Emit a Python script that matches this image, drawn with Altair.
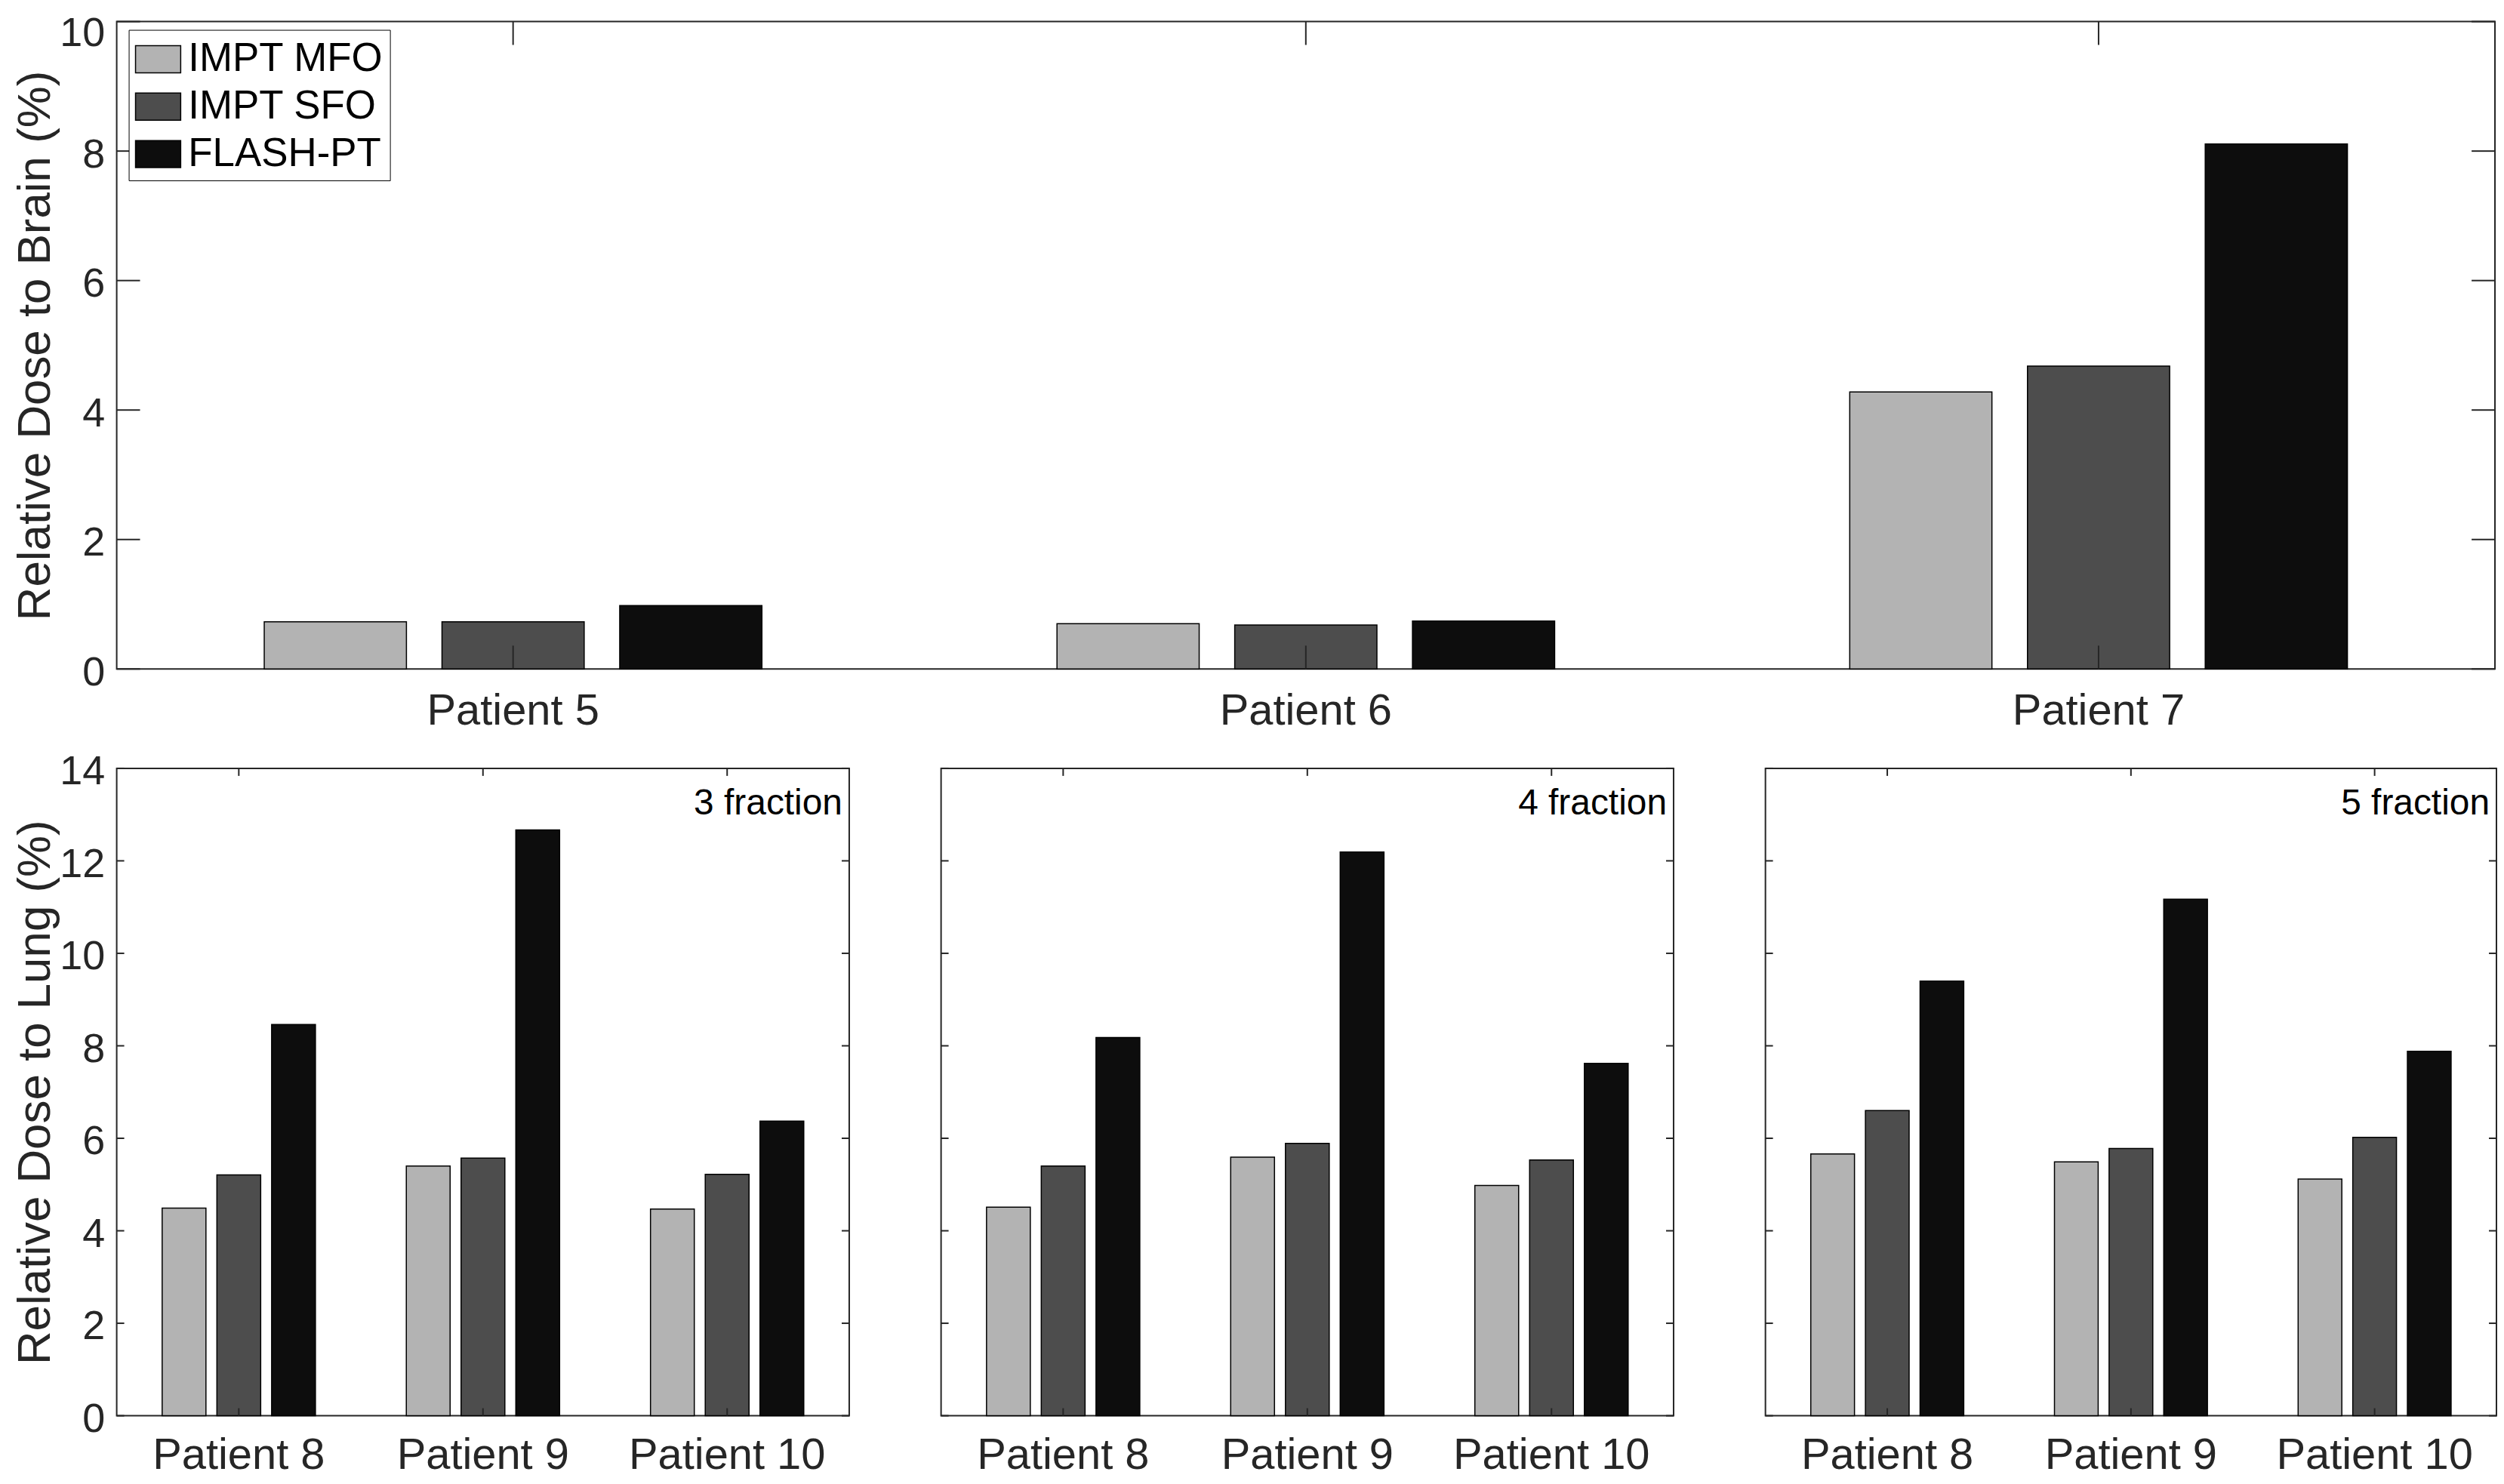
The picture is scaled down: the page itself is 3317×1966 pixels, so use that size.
import altair as alt
import pandas as pd

FONT = "Liberation Sans"
AX = "#262626"

methods = ["IMPT MFO", "IMPT SFO", "FLASH-PT"]
method_colors = ["#b3b3b3", "#4d4d4d", "#0d0d0d"]

brain_patients = ["Patient 5", "Patient 6", "Patient 7"]
brain_mfo = [0.73, 0.70, 4.28]
brain_sfo = [0.73, 0.68, 4.68]
brain_flash = [0.98, 0.74, 8.11]
brain_ticks = [0, 2, 4, 6, 8, 10]

lung_patients = ["Patient 8", "Patient 9", "Patient 10"]
fractions = ["3 fraction", "4 fraction", "5 fraction"]
lung_mfo = [[4.49, 5.40, 4.47], [4.51, 5.59, 4.98], [5.66, 5.49, 5.12]]
lung_sfo = [[5.21, 5.57, 5.22], [5.40, 5.89, 5.53], [6.60, 5.78, 6.02]]
lung_flash = [[8.46, 12.67, 6.37], [8.18, 12.19, 7.62], [9.40, 11.17, 7.88]]
lung_ticks = [0, 2, 4, 6, 8, 10, 12, 14]


def long_df(patients, mfo, sfo, flash):
    rows = []
    for series, vals in zip(methods, [mfo, sfo, flash]):
        for p, v in zip(patients, vals):
            rows.append({"patient": p, "method": series, "value": v})
    return pd.DataFrame(rows)


def panel(df, patients, ticks, ymax, W, H, tick_len, x_pad, y_title=None,
          legend=False, note=None, top_label_offset=5):
    x_axis = alt.Axis(title=None, labelAngle=0, labelFont=FONT, labelFontSize=58,
                      labelColor=AX, labelPadding=x_pad, labelLimit=600, ticks=False,
                      domain=False, grid=False)
    x_enc = alt.X("patient:N", sort=patients,
                  scale=alt.Scale(domain=patients, paddingInner=0, paddingOuter=0),
                  axis=x_axis)
    y_scale = alt.Scale(domain=[0, ymax], nice=False, zero=True)
    if y_title:
        y_axis = alt.Axis(title=y_title, titleFont=FONT, titleFontSize=62,
                          titleFontWeight="normal", titleColor=AX, titlePadding=3,
                          labelFont=FONT, labelFontSize=54, labelColor=AX,
                          labelPadding=16,
                          labelOffset={"condition": {"test": f"datum.value == {ymax}",
                                                     "value": top_label_offset},
                                       "value": 5},
                          ticks=False, domain=False, grid=False, values=ticks,
                          minExtent=73, maxExtent=73)
    else:
        y_axis = None

    if legend:
        leg = alt.Legend(title=None, orient="none", legendX=16, legendY=11, padding=8,
                         strokeColor="black", fillColor="white", labelFont=FONT,
                         labelFontSize=53, labelColor="black", labelOffset=9,
                         labelLimit=600, symbolType="M-1,-0.6H1V0.6H-1Z",
                         symbolSize=3600, symbolStrokeColor="black",
                         symbolStrokeWidth=1.5, symbolOpacity=1, rowPadding=5)
    else:
        leg = None

    bars = alt.Chart(df).mark_bar(stroke="black", strokeWidth=1.5, opacity=1).encode(
        x=x_enc,
        xOffset=alt.XOffset("method:N", sort=methods,
                            scale=alt.Scale(domain=methods, paddingInner=0.2, paddingOuter=0.83)),
        y=alt.Y("value:Q", scale=y_scale, axis=y_axis),
        color=alt.Color("method:N", sort=methods,
                        scale=alt.Scale(domain=methods, range=method_colors), legend=leg),
    )

    ydf = pd.DataFrame({"v": ticks})
    xdf = pd.DataFrame({"patient": patients})
    rule = dict(color=AX, strokeWidth=2)
    y_left = alt.Chart(ydf).mark_rule(**rule).encode(
        y=alt.Y("v:Q", scale=y_scale, axis=y_axis), x=alt.value(0), x2=alt.value(tick_len))
    y_right = alt.Chart(ydf).mark_rule(**rule).encode(
        y=alt.Y("v:Q", scale=y_scale, axis=y_axis), x=alt.value(W - tick_len), x2=alt.value(W))
    x_bottom = alt.Chart(xdf).mark_rule(**rule).encode(
        x=x_enc, y=alt.value(H), y2=alt.value(H - tick_len))
    x_top = alt.Chart(xdf).mark_rule(**rule).encode(
        x=x_enc, y=alt.value(0), y2=alt.value(tick_len))
    layers = [bars, y_left, y_right, x_bottom, x_top]
    if note:
        txt = alt.Chart(pd.DataFrame({"note": [note]})).mark_text(
            align="right", baseline="alphabetic", font=FONT, fontSize=48, color="black"
        ).encode(text="note:N", x=alt.value(W - 9), y=alt.value(61))
        layers.append(txt)
    return alt.layer(*layers).properties(width=W, height=H)


top = panel(long_df(brain_patients, brain_mfo, brain_sfo, brain_flash),
            brain_patients, brain_ticks, 10, 3159, 860, 31, 27,
            y_title="Relative Dose to Brain (%)", legend=True, top_label_offset=16)

widths = [973, 973, 971]
bottoms = []
for i, frac in enumerate(fractions):
    bottoms.append(panel(long_df(lung_patients, lung_mfo[i], lung_sfo[i], lung_flash[i]),
                         lung_patients, lung_ticks, 14, widths[i], 860, 10, 24,
                         y_title="Relative Dose to Lung (%)" if i == 0 else None,
                         note=frac))

bottom = alt.hconcat(*bottoms, spacing=118).resolve_scale(
    xOffset="independent", color="independent")

chart = alt.vconcat(top, bottom, spacing=23).resolve_scale(
    xOffset="independent", color="independent"
).properties(
    padding={"left": 7, "top": 6, "right": 0, "bottom": 0},
    background="white",
).configure(font=FONT).configure_view(stroke=AX, strokeWidth=2)

chart.save("out.html", embed_options={"renderer": "svg", "actions": False})
